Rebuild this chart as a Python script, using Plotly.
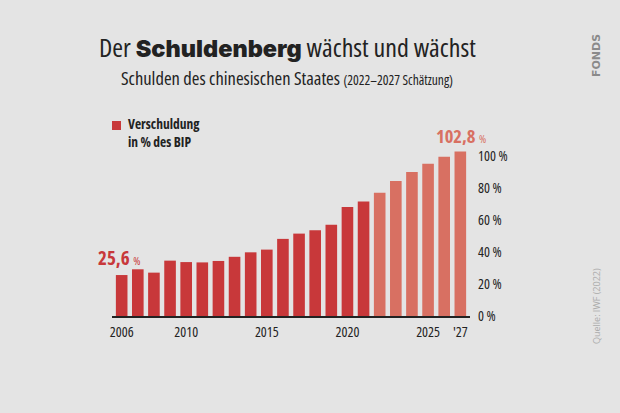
import plotly.graph_objects as go

years_hist = list(range(2006, 2022))
debt_hist = [25.6, 29.2, 27.1, 34.6, 33.7, 33.5, 34.4, 37.0, 39.8, 41.5, 48.2, 51.5, 53.6, 57.1, 68.1, 71.5]
years_proj = list(range(2022, 2028))
debt_proj = [77.1, 84.4, 90.0, 95.2, 99.6, 102.8]

x_tickvals = [2006, 2010, 2015, 2020, 2025, 2027]
x_ticklabels = ["2006", "2010", "2015", "2020", "2025", "'27"]
y_tickvals = [0, 20, 40, 60, 80, 100]
y_ticklabels = ["0 %", "20 %", "40 %", "60 %", "80 %", "100 %"]

RED = "#c8383a"
SALMON = "#d87062"
BG = "#e4e4e4"
INK = "#222222"
FAM = "Open Sans, sans-serif"

W, H = 620, 413
L, R, T, B = 112, 470, 140, 316


def px(x):
    return (x - L) / (R - L)


def py(y):
    return (B - y) / (B - T)


def cond(s, extra="", stretch="condensed"):
    return f"<span style='font-stretch:{stretch};{extra}'>{s}</span>"


fig = go.Figure()
fig.add_bar(x=years_hist, y=debt_hist, marker_color=RED, width=0.72,
            showlegend=False, marker_line_width=0)
fig.add_bar(x=years_proj, y=debt_proj, marker_color=SALMON, width=0.72,
            showlegend=False, marker_line_width=0)

ann = []
ann.append(dict(
    x=px(287), y=py(47), xref="paper", yref="paper", showarrow=False,
    text=(cond("Der ")
          + "<span style='font-family:Inter, Lato, sans-serif;font-weight:900;font-size:23.5px'>Schuldenberg</span>"
          + cond(" wächst und wächst")),
    font=dict(family=FAM, size=26, color=INK), xanchor="center", yanchor="middle"))
ann.append(dict(
    x=px(287), y=py(77), xref="paper", yref="paper", showarrow=False,
    text=cond("Schulden des chinesischen Staates ")
    + cond("(2022–2027 Schätzung)", "font-size:13.5px"),
    font=dict(family=FAM, size=18.5, color=INK), xanchor="center", yanchor="middle"))
ann.append(dict(
    x=px(126), y=py(133), xref="paper", yref="paper", showarrow=False, align="left",
    text=cond("<b>Verschuldung</b>") + "<br>" + cond("<b>in % des BIP</b>"),
    font=dict(family=FAM, size=13.5, color=INK), xanchor="left", yanchor="middle"))
ann.append(dict(
    x=2006, y=debt_hist[0], xref="x", yref="y", showarrow=False, yshift=17, xshift=-3,
    text=cond("<b>25,6</b> ") + cond("%", "font-size:11px"),
    font=dict(family=FAM, size=19, color=RED), xanchor="center", yanchor="middle"))
ann.append(dict(
    x=2027, y=debt_proj[-1], xref="x", yref="y", showarrow=False, yshift=16, xshift=1,
    text=cond("<b>102,8</b> ") + cond("%", "font-size:11px"),
    font=dict(family=FAM, size=18.5, color=SALMON), xanchor="center", yanchor="middle"))
ann.append(dict(
    x=px(596), y=py(56), xref="paper", yref="paper", showarrow=False, textangle=-90,
    text="<b>FONDS</b>", font=dict(family="DejaVu Sans, sans-serif", size=11, color="#8a8a8a"),
    xanchor="center", yanchor="middle"))
ann.append(dict(
    x=px(596), y=py(306), xref="paper", yref="paper", showarrow=False, textangle=-90,
    text=cond("Quelle: IWF (2022)", stretch="normal"), font=dict(family=FAM, size=9, color="#ababab"),
    xanchor="center", yanchor="middle"))

shapes = [dict(type="rect", xref="paper", yref="paper",
               x0=px(112), x1=px(121), y0=py(130), y1=py(121),
               fillcolor=RED, line=dict(width=0))]

fig.update_layout(
    width=W, height=H,
    margin=dict(l=L, r=W - R, t=T, b=H - B),
    paper_bgcolor=BG, plot_bgcolor=BG,
    annotations=ann, shapes=shapes,
    font=dict(family=FAM, color=INK),
    xaxis=dict(range=[2005.4, 2027.6], tickvals=x_tickvals,
               ticktext=[cond(t) for t in x_ticklabels],
               showgrid=False, zeroline=False, showline=True, linecolor=INK, linewidth=1.5,
               ticks="", tickfont=dict(family=FAM, size=14, color=INK), ticklabelstandoff=2),
    yaxis=dict(range=[0, 110], tickvals=y_tickvals,
               ticktext=[cond(t) for t in y_ticklabels], side="right",
               showgrid=False, zeroline=False, showline=False, ticks="",
               tickfont=dict(family=FAM, size=14, color=INK), ticklabelstandoff=7),
)

fig.write_html("out.html")
